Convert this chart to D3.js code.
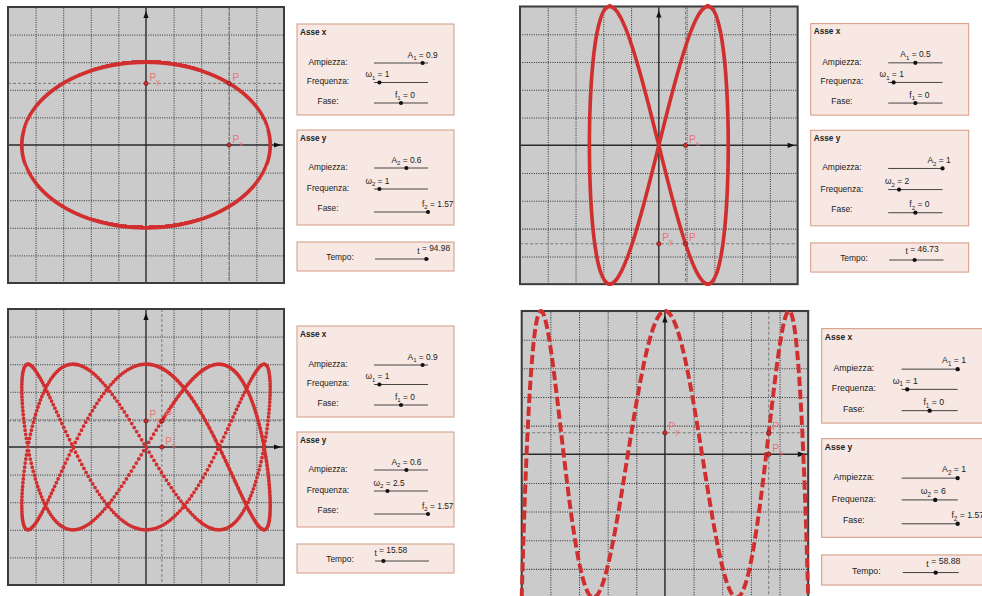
<!DOCTYPE html>
<html>
<head>
<meta charset="utf-8">
<script src="https://cdn.jsdelivr.net/npm/d3@7"></script>
<style>
  body { margin: 0; background: #fff; }
  svg { display: block; }
  text { font-family: "Liberation Sans", Arial, sans-serif; fill: #222; }
</style>
</head>
<body>
<svg id="chart" width="982" height="596"></svg>
<script>
// slider values: top-left, top-right, bottom-left, bottom-right
const ampX = [0.9, 0.5, 0.9, 1];
const freqX = [1, 1, 1, 1];
const phaseX = [0, 0, 0, 0];
const ampY = [0.6, 1, 0.6, 1];
const freqY = [1, 2, 2.5, 6];
const phaseY = [1.57, 0, 1.57, 1.57];
const times = [94.98, 46.73, 15.58, 58.88];

// slider ranges
const ampRange = [0, 1];
const freqRange = [0, 10];
const phaseRange = [-1.57, 1.57];
const timeRange = [0, 100];

const gridTicks = [-0.8, -0.6, -0.4, -0.2, 0.2, 0.4, 0.6, 0.8];
const rowLabels = ["Ampiezza:", "Frequenza:", "Fase:"];
const boxTitles = ["Asse x", "Asse y"];

const DT = 0.02;          // animation step of the trace
const SIZE = 276;         // side of the oscilloscope box
const RED = "#d12f2f";
const LABEL_RED = "#eb7373";

const svg = d3.select("#chart");

// where each panel sits on the page
const panels = [
  { x: 8, y: 7, k: 1 },
  { x: 520, y: 6.5, k: 1.006 },
  { x: 8, y: 309, k: 1 },
  { x: 521.7, y: 311, k: 1.038 }
];

function subText(sel, name, sub, rest, fs) {
  sel.append("tspan").text(name);
  sel.append("tspan").attr("font-size", fs * 0.72).attr("dy", fs * 0.32).text(sub);
  sel.append("tspan").attr("dy", -fs * 0.32).text(rest);
}

function drawSlider(g, x0, x1, ys, range, value, name, sub, dx) {
  const s = d3.scaleLinear().domain(range).range([x0, x1]).clamp(true);
  g.append("line")
    .attr("x1", x0).attr("x2", x1).attr("y1", ys).attr("y2", ys)
    .attr("stroke", "#333").attr("stroke-width", 0.9);
  g.append("circle")
    .attr("cx", s(value)).attr("cy", ys).attr("r", 2.1)
    .attr("fill", "#111");
  const t = g.append("text")
    .attr("x", s(value) + dx).attr("y", ys - 5.5)
    .attr("font-size", 8.4);
  subText(t, name, sub, ` = ${value}`, 8.4);
}

function drawPanel(p, i) {
  const g = svg.append("g").attr("transform", `translate(${p.x},${p.y}) scale(${p.k})`);
  const x = d3.scaleLinear().domain([-1, 1]).range([0, SIZE]);
  const y = d3.scaleLinear().domain([-1, 1]).range([SIZE, 0]);

  // ===== plot area =====
  g.append("rect").attr("width", SIZE).attr("height", SIZE).attr("fill", "#cbcbcb");

  g.append("g")
    .attr("transform", `translate(0,${SIZE})`)
    .call(d3.axisBottom(x).tickValues(gridTicks).tickSize(-SIZE).tickFormat(""))
    .call(a => a.select(".domain").remove())
    .call(a => a.selectAll("line").attr("stroke", "#333").attr("stroke-dasharray", "1,1.3"));
  g.append("g")
    .call(d3.axisLeft(y).tickValues(gridTicks).tickSize(-SIZE).tickFormat(""))
    .call(a => a.select(".domain").remove())
    .call(a => a.selectAll("line").attr("stroke", "#333").attr("stroke-dasharray", "1,1.3"));

  const fx = t => ampX[i] * Math.sin(freqX[i] * t + phaseX[i]);
  const fy = t => ampY[i] * Math.sin(freqY[i] * t + phaseY[i]);
  const T = times[i];
  const px = fx(T), py = fy(T);

  // dashed guides through P
  g.append("line")
    .attr("x1", 0).attr("x2", SIZE).attr("y1", y(py)).attr("y2", y(py))
    .attr("stroke", "#7a7a7a").attr("stroke-dasharray", "3,2");
  g.append("line")
    .attr("x1", x(px)).attr("x2", x(px)).attr("y1", 0).attr("y2", SIZE)
    .attr("stroke", "#7a7a7a").attr("stroke-dasharray", "3,2");

  // axes
  g.append("line").attr("x1", 0).attr("x2", SIZE).attr("y1", y(0)).attr("y2", y(0))
    .attr("stroke", "#2a2a2a").attr("stroke-width", 1.4);
  g.append("line").attr("x1", x(0)).attr("x2", x(0)).attr("y1", 0).attr("y2", SIZE)
    .attr("stroke", "#2a2a2a").attr("stroke-width", 1.4);
  const ax = SIZE - 3, ay = 4;
  g.append("path").attr("d", `M${ax},${y(0)}l-7,-2.6v5.2z`).attr("fill", "#111");
  g.append("path").attr("d", `M${x(0)},${ay}l-2.6,7h5.2z`).attr("fill", "#111");

  g.append("rect").attr("width", SIZE).attr("height", SIZE)
    .attr("fill", "none").attr("stroke", "#3c3c3c").attr("stroke-width", 2);

  if (i === 3) {
    // fast trace: it reads as a dashed curve, drawn over one full sweep of x
    const k = Math.floor(T / (2 * Math.PI)) * 2 * Math.PI;
    const sweep = d3.range(k - Math.PI / 2, k + Math.PI / 2 + 1e-9, 0.004);
    const line = d3.line().x(t => x(fx(t))).y(t => y(fy(t)));
    g.append("path").attr("d", line(sweep))
      .attr("fill", "none").attr("stroke", RED)
      .attr("stroke-width", 3.8).attr("stroke-dasharray", "9,3.5");
  } else {
    // trace of P, one dot per animation step
    const steps = d3.range(0, T + 1e-9, DT);
    const d = steps.map(t => `M${x(fx(t)).toFixed(2)},${y(fy(t)).toFixed(2)}h0`).join("");
    g.append("path").attr("d", d)
      .attr("fill", "none").attr("stroke", RED)
      .attr("stroke-width", 3.8).attr("stroke-linecap", "round");
  }

  // points P, Px, Py
  const pts = [
    { cx: x(px), cy: y(0), name: "P", sub: "x" },
    { cx: x(0), cy: y(py), name: "P", sub: "y" },
    { cx: x(px), cy: y(py), name: "P", sub: "" }
  ];
  pts.forEach(q => {
    g.append("circle").attr("cx", q.cx).attr("cy", q.cy).attr("r", 2.1)
      .attr("fill", RED).attr("stroke", "#7a1010").attr("stroke-width", 0.7);
    const t = g.append("text").attr("x", q.cx + 3.5).attr("y", q.cy - 2.5)
      .attr("font-size", 10).style("fill", LABEL_RED);
    subText(t, q.name, q.sub, "", 10);
  });

  // ===== control boxes =====
  const SB = 289, SBW = 157;
  const boxes = [
    { top: 17, h: 91, text: [41, 60, 80], sl: [39, 58.5, 79],
      vals: [ampX[i], freqX[i], phaseX[i]], n: "1" },
    { top: 123, h: 95, text: [40, 61, 81], sl: [38, 59, 82],
      vals: [ampY[i], freqY[i], phaseY[i]], n: "2" }
  ];
  const ranges = [ampRange, freqRange, phaseRange];
  const names = ["A", "ω", "f"];
  const dxs = [-15, -14, -6];

  boxes.forEach((b, j) => {
    g.append("rect").attr("x", SB).attr("y", b.top).attr("width", SBW).attr("height", b.h)
      .attr("fill", "#f7e8e3").attr("stroke", "#d49a82").attr("stroke-width", 1);
    g.append("text").attr("x", SB + 3).attr("y", b.top + 10.5)
      .attr("font-size", 8.2).attr("font-weight", "bold").text(boxTitles[j]);
    rowLabels.forEach((lab, r) => {
      g.append("text").attr("x", SB + 31).attr("y", b.top + b.text[r])
        .attr("text-anchor", "middle").attr("font-size", 8.4).text(lab);
      drawSlider(g, SB + 77, SB + 131, b.top + b.sl[r], ranges[r], b.vals[r], names[r], b.n, dxs[r]);
    });
  });

  // Tempo
  const tTop = 235;
  g.append("rect").attr("x", SB).attr("y", tTop).attr("width", SBW).attr("height", 29)
    .attr("fill", "#f7e8e3").attr("stroke", "#d49a82").attr("stroke-width", 1);
  g.append("text").attr("x", SB + 43).attr("y", tTop + 18)
    .attr("text-anchor", "middle").attr("font-size", 8.4).text("Tempo:");
  drawSlider(g, SB + 78, SB + 132, tTop + 17, timeRange, T, "t", "", -9);
}

panels.forEach((p, i) => drawPanel(p, i));
</script>
</body>
</html>
